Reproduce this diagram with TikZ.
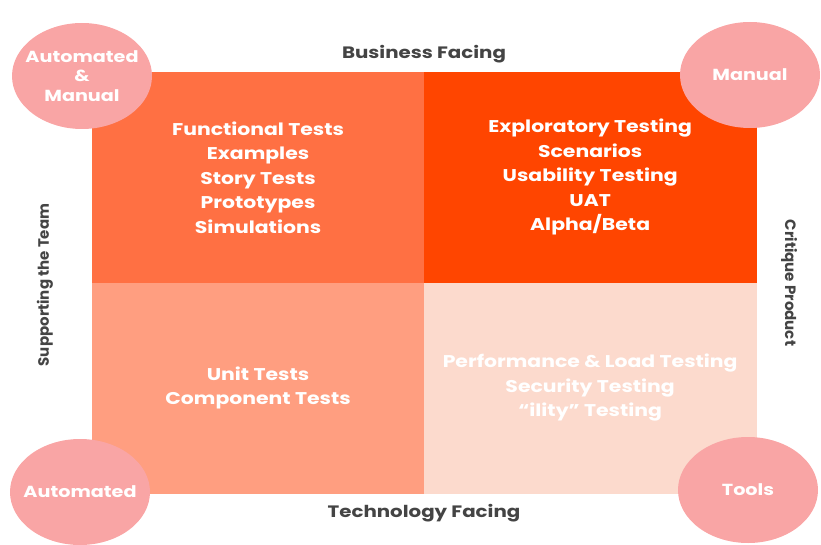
\documentclass[tikz,border=0pt]{standalone}
\usepackage{fontspec}
\setmainfont{Poppins}
\newfontfamily\widefont{Poppins}[FakeStretch=1.2, Ligatures=TeX]
\usepackage{tikz}
\usetikzlibrary{positioning,shapes.geometric}
\definecolor{coral}{RGB}{255,112,67}
\definecolor{redorange}{RGB}{255,69,0}
\definecolor{salmon}{RGB}{255,158,128}
\definecolor{peach}{RGB}{252,218,205}
\definecolor{pinkcircle}{RGB}{249,165,165}
\definecolor{axisgray}{RGB}{68,68,68}

\begin{document}
\begin{tikzpicture}[x=1pt, y=-1pt,
  quad/.style={rectangle, inner sep=0pt, line width=0.6pt, minimum width=331.5pt, minimum height=210pt, align=center, text=white, font=\widefont\fontsize{17}{24.5}\selectfont\bfseries},
  blob/.style={ellipse, fill=pinkcircle, minimum width=140pt, minimum height=106pt, inner xsep=-8pt, inner ysep=0pt, align=center, text=white, font=\widefont\fontsize{16}{19.5}\selectfont\bfseries},
  axis/.style={text=axisgray, font=\widefont\fontsize{16.5}{18}\selectfont\bfseries},
  side/.style={text=axisgray, font=\fontsize{15}{18}\selectfont\bfseries}]
\useasboundingbox (0,0) rectangle (821,545);

% the four quadrants
\node (tl) [quad, fill=coral, draw=coral, anchor=north west] at (92,72) {
Functional Tests\\ Examples\\ Story Tests\\ Prototypes\\ Simulations
};
\node (tr) [quad, fill=redorange, draw=redorange, right=0pt of tl] {
Exploratory Testing\\ Scenarios\\ Usability Testing\\ UAT\\ Alpha/Beta
};
\node (bl) [quad, fill=salmon, draw=salmon, below=0pt of tl] {
Unit Tests\\ Component Tests
};
\node (br) [quad, fill=peach, draw=peach, below=0pt of tr] {
Performance \& Load Testing\\ Security Testing\\ ``ility'' Testing
};

% corner circles
\node (automan) [blob] at (82,76) {Automated\\ \&\\ Manual};
\node (manual) [blob] at (750,75) {Manual};
\node (automated) [blob] at (80,492) {Automated};
\node (tools) [blob] at (748,490) {Tools};

% axis labels
\node (business) [axis] at (424,54) {Business Facing};
\node (technology) [axis] at (424,513) {Technology Facing};
\node (supporting) [side, rotate=90] at (45,285) {Supporting the Team};
\node (critique) [side, rotate=-90] at (789,283) {Critique Product};
\end{tikzpicture}
\end{document}
